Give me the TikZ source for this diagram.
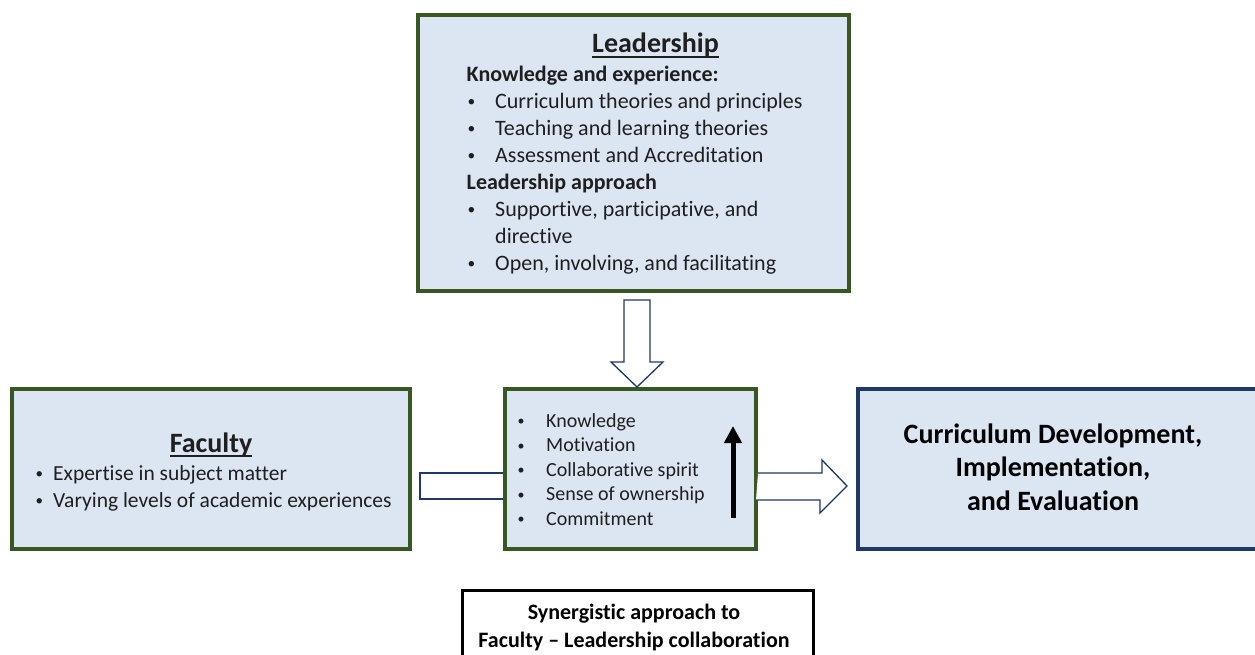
\documentclass[tikz,border=0pt]{standalone}
\usepackage{fontspec}
\setmainfont{Carlito}[Ligatures=NoCommon]
\usetikzlibrary{calc,arrows.meta}
\definecolor{boxgreen}{HTML}{385723}
\definecolor{boxnavy}{HTML}{203864}
\definecolor{boxfill}{HTML}{DCE6F2}
\newcommand\undr[1]{\setbox0\hbox{#1}\rlap{\rule[-5pt]{\wd0}{1.8pt}}\box0}
\newcommand\itm[2][25pt]{\makebox[#1][l]{\hspace{1pt}\raisebox{1.5pt}{\scalebox{0.7}{\textbullet}}}#2}
\begin{document}
\begin{tikzpicture}[x=1pt,y=-1pt,
  box/.style={draw=boxgreen,line width=4pt,fill=boxfill,inner sep=0pt},
  hollow/.style={draw=boxnavy,line width=1.3pt,fill=white,line join=miter},
  body/.style={inner sep=0pt,align=left,text=black!88,font=\fontsize{22}{27}\selectfont}]
\clip (0,0) rectangle (1255,655);
\fill[white] (0,0) rectangle (1255,655);
\coordinate (axis) at (0,486);
% the four boxes
\node[box,minimum width=431pt,minimum height=276pt] (lead) at (633.5,153) {};
\node[box,minimum width=398pt,minimum height=160pt] (fac) at (211,469) {};
\node[box,minimum width=251pt,minimum height=160pt] (mid) at (630.5,469) {};
\node[box,draw=boxnavy,minimum width=402pt,minimum height=160pt] (cur) at (1059,469) {};
\node[draw=black,line width=3pt,fill=white,minimum width=351pt,minimum height=100pt] (syn) at (638,640.5) {};
% leadership (base = last line)
\node[body,anchor=base,font=\bfseries\fontsize{28}{33}\selectfont] (leadtitle) at (655.5,53) {\undr{Leadership}};
\node[body,anchor=base west] (leadlist) at (466.5,270) {\textbf{Knowledge and experience:}\\
  \itm[28.5pt]{Curriculum theories and principles}\\
  \itm[28.5pt]{Teaching and learning theories}\\
  \itm[28.5pt]{Assessment and Accreditation}\\
  \textbf{Leadership approach}\\
  \itm[28.5pt]{Supportive, participative, and}\\
  \hspace*{28.5pt}directive\\
  \itm[28.5pt]{Open, involving, and facilitating}};
% faculty
\node[body,anchor=base,font=\bfseries\fontsize{28}{33}\selectfont] (factitle) at (211,452) {\undr{Faculty}};
\node[body,anchor=base west,font=\fontsize{21.5}{27}\selectfont] (faclist) at (34.5,507) {\itm[18.5pt]{Expertise in subject matter}\\
  \itm[18.5pt]{Varying levels of academic experiences}};
% centre
\node[body,anchor=base west,font=\fontsize{20}{24.5}\selectfont] (midlist) at (516.5,525) {\itm[29.5pt]{Knowledge}\\
  \itm[29.5pt]{Motivation}\\
  \itm[29.5pt]{Collaborative spirit}\\
  \itm[29.5pt]{Sense of ownership}\\
  \itm[29.5pt]{Commitment}};
\draw[line width=5pt,-{Triangle[width=17pt,length=17pt]}] (733,518) -- (733,426);
% outcome and caption
\node[body,align=center,anchor=base,text=black,font=\bfseries\fontsize{28}{33.5}\selectfont] (curtxt) at (1053,510) {Curriculum Development,\\Implementation,\\and Evaluation};
\node[body,align=center,anchor=base,text=black,font=\bfseries\fontsize{22}{28}\selectfont] (syntxt) at (634,647) {Synergistic approach to\\Faculty -- Leadership collaboration};
% block arrows
\draw[hollow] ($(lead.south -| 637,0)+(-13,7)$) -- ++(26,0) -- ++(0,62) -- ++(13,0) -- (mid.north -| 637,0) -- ++(-26,-25) -- ++(13,0) -- cycle;
\draw[hollow] ($(mid.west |- axis)+(0,-13)$) -- ($(fac.east |- axis)+(8,-13)$) -- ++(0,26) -- ($(mid.west |- axis)+(0,13)$);
\draw[hollow] ($(mid.east |- axis)+(0,-13)$) -- ++(64,0) -- ++(0,-13) -- ($(cur.west |- axis)+(-9,0)$) -- ++(-27,27) -- ++(0,-13) -- ++(-64,0);
\end{tikzpicture}
\end{document}
